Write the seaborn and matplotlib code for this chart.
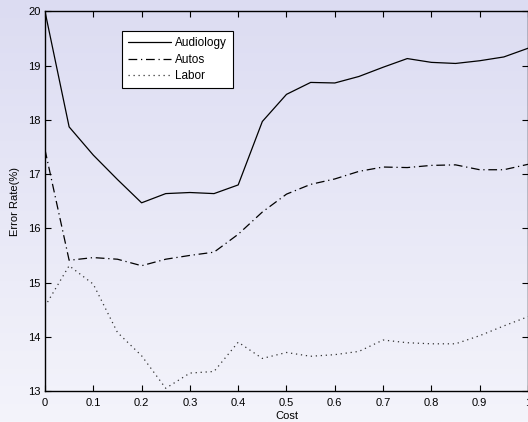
import numpy as np
import pandas as pd
import matplotlib
matplotlib.use("Agg")
import matplotlib.pyplot as plt
import seaborn as sns
from matplotlib.colors import LinearSegmentedColormap

cost = [0.0, 0.05, 0.1, 0.15, 0.2, 0.25, 0.3, 0.35, 0.4, 0.45, 0.5,
        0.55, 0.6, 0.65, 0.7, 0.75, 0.8, 0.85, 0.9, 0.95, 1.0]
audiology = [20.0, 17.87, 17.35, 16.9, 16.47, 16.64, 16.66, 16.64, 16.8, 17.97, 18.47,
             18.69, 18.68, 18.8, 18.97, 19.13, 19.06, 19.04, 19.09, 19.16, 19.32]
autos = [17.45, 15.41, 15.46, 15.43, 15.31, 15.43, 15.5, 15.56, 15.89, 16.3, 16.63,
         16.81, 16.91, 17.05, 17.13, 17.12, 17.16, 17.17, 17.08, 17.08, 17.18]
labor = [14.56, 15.31, 14.97, 14.08, 13.65, 13.05, 13.33, 13.36, 13.9, 13.6, 13.71,
         13.64, 13.67, 13.73, 13.94, 13.89, 13.87, 13.87, 14.02, 14.2, 14.37]
series_names = ["Audiology", "Autos", "Labor"]

df = pd.DataFrame({"Cost": cost * 3,
                   "Error": audiology + autos + labor,
                   "Dataset": sum([[n] * len(cost) for n in series_names], [])})

sns.set_style("ticks")
plt.rcParams["font.family"] = ["Liberation Sans", "DejaVu Sans"]
plt.rcParams["text.color"] = "black"
plt.rcParams["axes.labelcolor"] = "black"
plt.rcParams["xtick.color"] = "black"
plt.rcParams["ytick.color"] = "black"
plt.rcParams["axes.edgecolor"] = "black"

fig = plt.figure(figsize=(5.28, 4.22), dpi=100)
bg = fig.add_axes([0, 0, 1, 1], zorder=-10)
grad = np.linspace(0, 1, 256).reshape(-1, 1)
cmap = LinearSegmentedColormap.from_list("bg", ["#dcdcf2", "#f4f4fb"])
bg.imshow(grad, aspect="auto", cmap=cmap, extent=[0, 1, 0, 1])
bg.axis("off")

ax = fig.add_axes([0.0852, 0.0735, 0.9148, 0.8995])
ax.patch.set_alpha(0)
styles = {"Audiology": "-", "Autos": (0, (7, 3, 1, 3)), "Labor": (0, (1, 3))}
colors = {"Audiology": "black", "Autos": "black", "Labor": "#333333"}
for name in series_names:
    sub = df[df["Dataset"] == name]
    sns.lineplot(data=sub, x="Cost", y="Error", ax=ax, color=colors[name],
                 linewidth=0.9, linestyle=styles[name], label=name)

ax.set_xlim(0, 1)
ax.set_ylim(13, 20)
ax.set_xticks([0, 0.1, 0.2, 0.3, 0.4, 0.5, 0.6, 0.7, 0.8, 0.9, 1])
ax.set_xticklabels(["0", "0.1", "0.2", "0.3", "0.4", "0.5", "0.6", "0.7", "0.8", "0.9", "1"])
ax.set_yticks(range(13, 21))
ax.tick_params(direction="in", top=True, right=True, length=4, width=0.8,
               labelsize=8, pad=3)
ax.tick_params(axis="x", pad=5)
for s in ax.spines.values():
    s.set_linewidth(1.0)
    s.set_visible(True)
ax.set_xlabel("Cost", fontsize=8, labelpad=2)
ax.set_ylabel("Error Rate(%)", fontsize=8, labelpad=6)

leg = ax.legend(loc="upper left", bbox_to_anchor=(0.160, 0.948), fontsize=8.5,
                frameon=True, fancybox=False, edgecolor="black", framealpha=1,
                handlelength=3.6, borderpad=0.5, labelspacing=0.4, handletextpad=0.4,
                borderaxespad=0)
leg.get_frame().set_linewidth(0.8)

fig.savefig("out.png", dpi=100)
